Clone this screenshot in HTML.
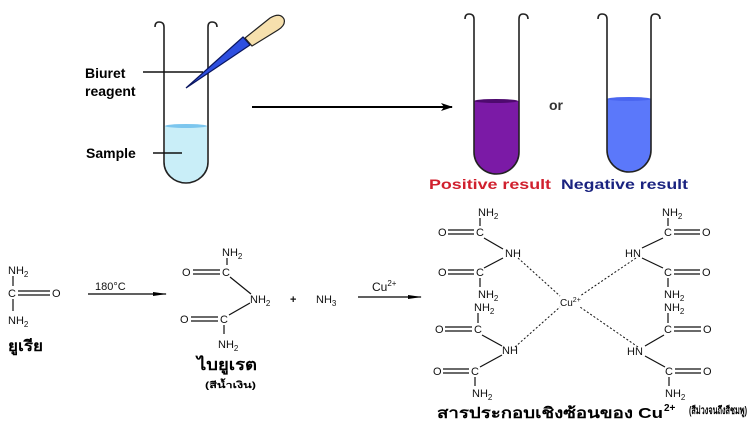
<!DOCTYPE html>
<html><head><meta charset="utf-8"><style>
html,body{margin:0;padding:0;background:#fff;width:750px;height:430px;overflow:hidden}
svg{display:block}
.t{font-family:"Liberation Sans","Noto Sans CJK SC",sans-serif}
.th{font-family:"Liberation Sans","Noto Sans CJK SC",sans-serif;font-weight:bold}
</style></head><body>
<svg width="750" height="430" viewBox="0 0 750 430" xmlns="http://www.w3.org/2000/svg">
<defs>
<marker id="ah" markerWidth="12" markerHeight="8" refX="11" refY="4" orient="auto" markerUnits="userSpaceOnUse"><path d="M0,0 L12,4 L0,8 L3,4z" fill="#000"/></marker>
<marker id="ah2" markerWidth="14" markerHeight="6" refX="13" refY="3" orient="auto" markerUnits="userSpaceOnUse"><path d="M0,1 L14,3 L0,5z" fill="#000"/></marker>
</defs>
<path d="M165,126 L207,126 L207,163 A21,20 0 0 1 165,163Z" fill="#c9eef8"/>
<ellipse cx="186" cy="126" rx="21" ry="2" fill="#7cc6ee"/>
<path d="M155,27 Q155,22 159,22 Q164,22 164,27 L164,162 A22,21 0 0 0 208,162 L208,27 Q208,22 212,22 Q217,22 217,27" fill="none" stroke="#222" stroke-width="1.6"/>
<path d="M186,88 L243,37 L250,45 Z" fill="#2e4fe0" stroke="#0a1660" stroke-width="1.2"/>
<path d="M245,38 L270,18 Q280,12 284,19 Q286,25 278,30 L252,46Z" fill="#f6e0ad" stroke="#222" stroke-width="1.2"/>
<line x1="143" y1="72" x2="203" y2="72" stroke="#111" stroke-width="1.4"/>
<line x1="153" y1="153" x2="182" y2="153" stroke="#111" stroke-width="1.4"/>
<text x="85" y="78" class="th" font-size="14">Biuret</text>
<text x="85" y="96" class="th" font-size="14">reagent</text>
<text x="86" y="158" class="th" font-size="14">Sample</text>
<line x1="252" y1="107" x2="452" y2="107" stroke="#000" stroke-width="2" marker-end="url(#ah)"/>
<path d="M474,101 L519,101 L519,152 A22.5,22 0 0 1 474,152Z" fill="#7b1aa6"/>
<ellipse cx="496" cy="101" rx="22" ry="2" fill="#4e0a6e"/>
<path d="M465,19 Q465,14 469,14 Q474,14 474,19 L474,152 A22.5,22 0 0 0 519,152 L519,19 Q519,14 523,14 Q528,14 528,19" fill="none" stroke="#222" stroke-width="1.6"/>
<path d="M607,99 L651,99 L651,150 A22,22 0 0 1 607,150Z" fill="#5b78fa"/>
<ellipse cx="629" cy="99" rx="22" ry="2" fill="#4a66f0"/>
<path d="M598,19 Q598,14 602,14 Q607,14 607,19 L607,150 A22,22 0 0 0 651,150 L651,19 Q651,14 655,14 Q660,14 660,19" fill="none" stroke="#222" stroke-width="1.6"/>
<text x="549" y="110" class="th" font-size="14" fill="#333">or</text>
<text x="429" y="189" class="th" font-size="14" fill="#d0202e" textLength="122" lengthAdjust="spacingAndGlyphs">Positive result</text>
<text x="561" y="189" class="th" font-size="14" fill="#1a2380" textLength="127" lengthAdjust="spacingAndGlyphs">Negative result</text>

<g class="t" font-size="11" fill="#111">
<text x="8" y="274">NH<tspan font-size="8" dy="3">2</tspan></text>
<text x="8" y="297">C</text>
<text x="52" y="297">O</text>
<text x="8" y="324">NH<tspan font-size="8" dy="3">2</tspan></text>
<text x="95" y="290">180°C</text>
<text x="222" y="256">NH<tspan font-size="8" dy="3">2</tspan></text>
<text x="222" y="276">C</text>
<text x="182" y="276">O</text>
<text x="250" y="303">NH<tspan font-size="8" dy="3">2</tspan></text>
<text x="220" y="323">C</text>
<text x="180" y="323">O</text>
<text x="218" y="348">NH<tspan font-size="8" dy="3">2</tspan></text>
<text x="290" y="303" font-weight="bold">+</text>
<text x="316" y="303">NH<tspan font-size="8" dy="3">3</tspan></text>
<text x="372" y="291" font-size="12">Cu<tspan font-size="8" dy="-5">2+</tspan></text>
<text x="478" y="216">NH<tspan font-size="8" dy="3">2</tspan></text>
<text x="476" y="236">C</text>
<text x="438" y="236">O</text>
<text x="505" y="257">NH</text>
<text x="476" y="276">C</text>
<text x="438" y="276">O</text>
<text x="478" y="298">NH<tspan font-size="8" dy="3">2</tspan></text>
<text x="474" y="311">NH<tspan font-size="8" dy="3">2</tspan></text>
<text x="474" y="333">C</text>
<text x="435" y="333">O</text>
<text x="502" y="354">NH</text>
<text x="471" y="375">C</text>
<text x="433" y="375">O</text>
<text x="472" y="397">NH<tspan font-size="8" dy="3">2</tspan></text>
<text x="560" y="306" font-size="10">Cu<tspan font-size="7" dy="-4">2+</tspan></text>
<text x="662" y="216">NH<tspan font-size="8" dy="3">2</tspan></text>
<text x="664" y="236">C</text>
<text x="702" y="236">O</text>
<text x="625" y="257">HN</text>
<text x="664" y="276">C</text>
<text x="702" y="276">O</text>
<text x="664" y="298">NH<tspan font-size="8" dy="3">2</tspan></text>
<text x="664" y="311">NH<tspan font-size="8" dy="3">2</tspan></text>
<text x="664" y="333">C</text>
<text x="703" y="333">O</text>
<text x="627" y="355">HN</text>
<text x="665" y="375">C</text>
<text x="703" y="375">O</text>
<text x="665" y="397">NH<tspan font-size="8" dy="3">2</tspan></text>
</g>
<g stroke="#111" stroke-width="1.2" fill="none">
<line x1="13" y1="276" x2="13" y2="286"/><line x1="13" y1="299" x2="13" y2="311"/>
<line x1="18" y1="291" x2="50" y2="291"/><line x1="18" y1="295" x2="50" y2="295"/>
<line x1="227" y1="258" x2="227" y2="265"/>
<line x1="193" y1="270" x2="220" y2="270"/><line x1="193" y1="274" x2="220" y2="274"/>
<line x1="230" y1="277" x2="251" y2="294"/>
<line x1="250" y1="303" x2="229" y2="315"/>
<line x1="191" y1="317" x2="218" y2="317"/><line x1="191" y1="321" x2="218" y2="321"/>
<line x1="224" y1="325" x2="224" y2="334"/>
<line x1="480" y1="218" x2="480" y2="226"/>
<line x1="448" y1="230" x2="474" y2="230"/><line x1="448" y1="234" x2="474" y2="234"/>
<line x1="484" y1="238" x2="503" y2="249"/>
<line x1="503" y1="258" x2="484" y2="268"/>
<line x1="448" y1="270" x2="474" y2="270"/><line x1="448" y1="274" x2="474" y2="274"/>
<line x1="480" y1="278" x2="480" y2="287"/>
<line x1="478" y1="313" x2="478" y2="323"/>
<line x1="445" y1="327" x2="472" y2="327"/><line x1="445" y1="331" x2="472" y2="331"/>
<line x1="482" y1="335" x2="502" y2="346"/>
<line x1="502" y1="355" x2="480" y2="367"/>
<line x1="443" y1="369" x2="469" y2="369"/><line x1="443" y1="373" x2="469" y2="373"/>
<line x1="475" y1="377" x2="475" y2="386"/>
<line x1="668" y1="218" x2="668" y2="226"/>
<line x1="674" y1="230" x2="700" y2="230"/><line x1="674" y1="234" x2="700" y2="234"/>
<line x1="663" y1="238" x2="642" y2="248"/>
<line x1="642" y1="258" x2="663" y2="268"/>
<line x1="674" y1="270" x2="700" y2="270"/><line x1="674" y1="274" x2="700" y2="274"/>
<line x1="668" y1="278" x2="668" y2="287"/>
<line x1="668" y1="313" x2="668" y2="323"/>
<line x1="674" y1="327" x2="701" y2="327"/><line x1="674" y1="331" x2="701" y2="331"/>
<line x1="664" y1="335" x2="645" y2="346"/>
<line x1="645" y1="356" x2="665" y2="367"/>
<line x1="675" y1="369" x2="701" y2="369"/><line x1="675" y1="373" x2="701" y2="373"/>
<line x1="669" y1="377" x2="669" y2="386"/>
</g>
<g stroke="#111" stroke-width="1" stroke-dasharray="2,2">
<line x1="518" y1="258" x2="560" y2="296"/>
<line x1="636" y1="258" x2="580" y2="296"/>
<line x1="515" y1="347" x2="560" y2="307"/>
<line x1="638" y1="347" x2="580" y2="307"/>
</g>
<line x1="88" y1="294" x2="166" y2="294" stroke="#000" stroke-width="1.2" marker-end="url(#ah2)"/>
<line x1="358" y1="297" x2="421" y2="297" stroke="#000" stroke-width="1.2" marker-end="url(#ah2)"/>
<text x="8" y="351" class="th" font-size="15" textLength="35" lengthAdjust="spacingAndGlyphs">ยูเรีย</text>
<text x="197" y="370" class="th" font-size="16" textLength="60" lengthAdjust="spacingAndGlyphs">ไบยูเรต</text>
<text x="205" y="388" class="th" font-size="9" textLength="51" lengthAdjust="spacingAndGlyphs">(สีน้ำเงิน)</text>
<text x="437" y="418" class="th" font-size="15" textLength="226" lengthAdjust="spacingAndGlyphs">สารประกอบเชิงซ้อนของ Cu</text>
<text x="664" y="411" class="th" font-size="10">2+</text>
<text x="689" y="414" class="th" font-size="11" textLength="58" lengthAdjust="spacingAndGlyphs">(สีม่วงจนถึงสีชมพู)</text>
</svg>
</body></html>
